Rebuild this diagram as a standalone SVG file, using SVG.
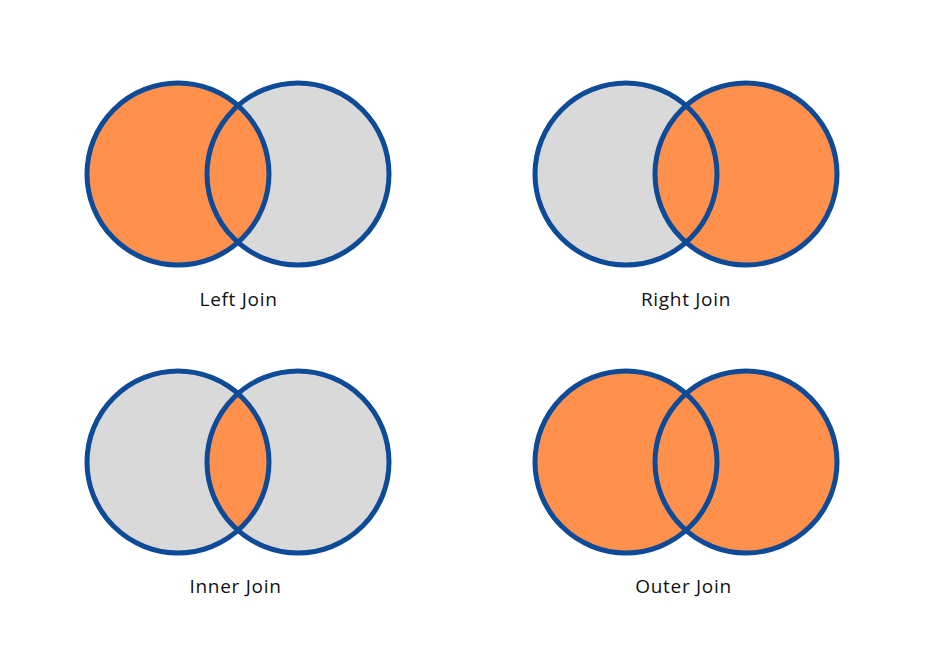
<svg xmlns="http://www.w3.org/2000/svg" width="934" height="670" viewBox="0 0 934 670">
<style>
.or{fill:#FF914D}
.gr{fill:#D9D9D9}
.ln{fill:none;stroke:#0D4A97;stroke-width:5}
.lb{font-family:"Open Sans","Liberation Sans",sans-serif;font-size:19px;letter-spacing:0.7px;fill:#111;text-anchor:middle}
</style>
<defs>
<clipPath id="clipL"><circle cx="178" cy="462" r="91"/></clipPath>
</defs>
<rect width="934" height="670" fill="#fff"/>
<g id="left-join">
<circle class="gr" cx="298" cy="174" r="91"/>
<circle class="or" cx="178" cy="174" r="91"/>
<circle class="ln" cx="178" cy="174" r="91"/>
<circle class="ln" cx="298" cy="174" r="91"/>
<text class="lb" x="238.5" y="306">Left Join</text>
</g>
<g id="right-join">
<circle class="gr" cx="626" cy="174" r="91"/>
<circle class="or" cx="746" cy="174" r="91"/>
<circle class="ln" cx="626" cy="174" r="91"/>
<circle class="ln" cx="746" cy="174" r="91"/>
<text class="lb" x="686" y="306">Right Join</text>
</g>
<g id="inner-join">
<circle class="gr" cx="178" cy="462" r="91"/>
<circle class="gr" cx="298" cy="462" r="91"/>
<circle class="or" cx="298" cy="462" r="91" clip-path="url(#clipL)"/>
<circle class="ln" cx="178" cy="462" r="91"/>
<circle class="ln" cx="298" cy="462" r="91"/>
<text class="lb" x="235.5" y="593">Inner Join</text>
</g>
<g id="outer-join">
<circle class="or" cx="626" cy="462" r="91"/>
<circle class="or" cx="746" cy="462" r="91"/>
<circle class="ln" cx="626" cy="462" r="91"/>
<circle class="ln" cx="746" cy="462" r="91"/>
<text class="lb" x="683.5" y="593">Outer Join</text>
</g>
<g id="connectors"/>
</svg>
